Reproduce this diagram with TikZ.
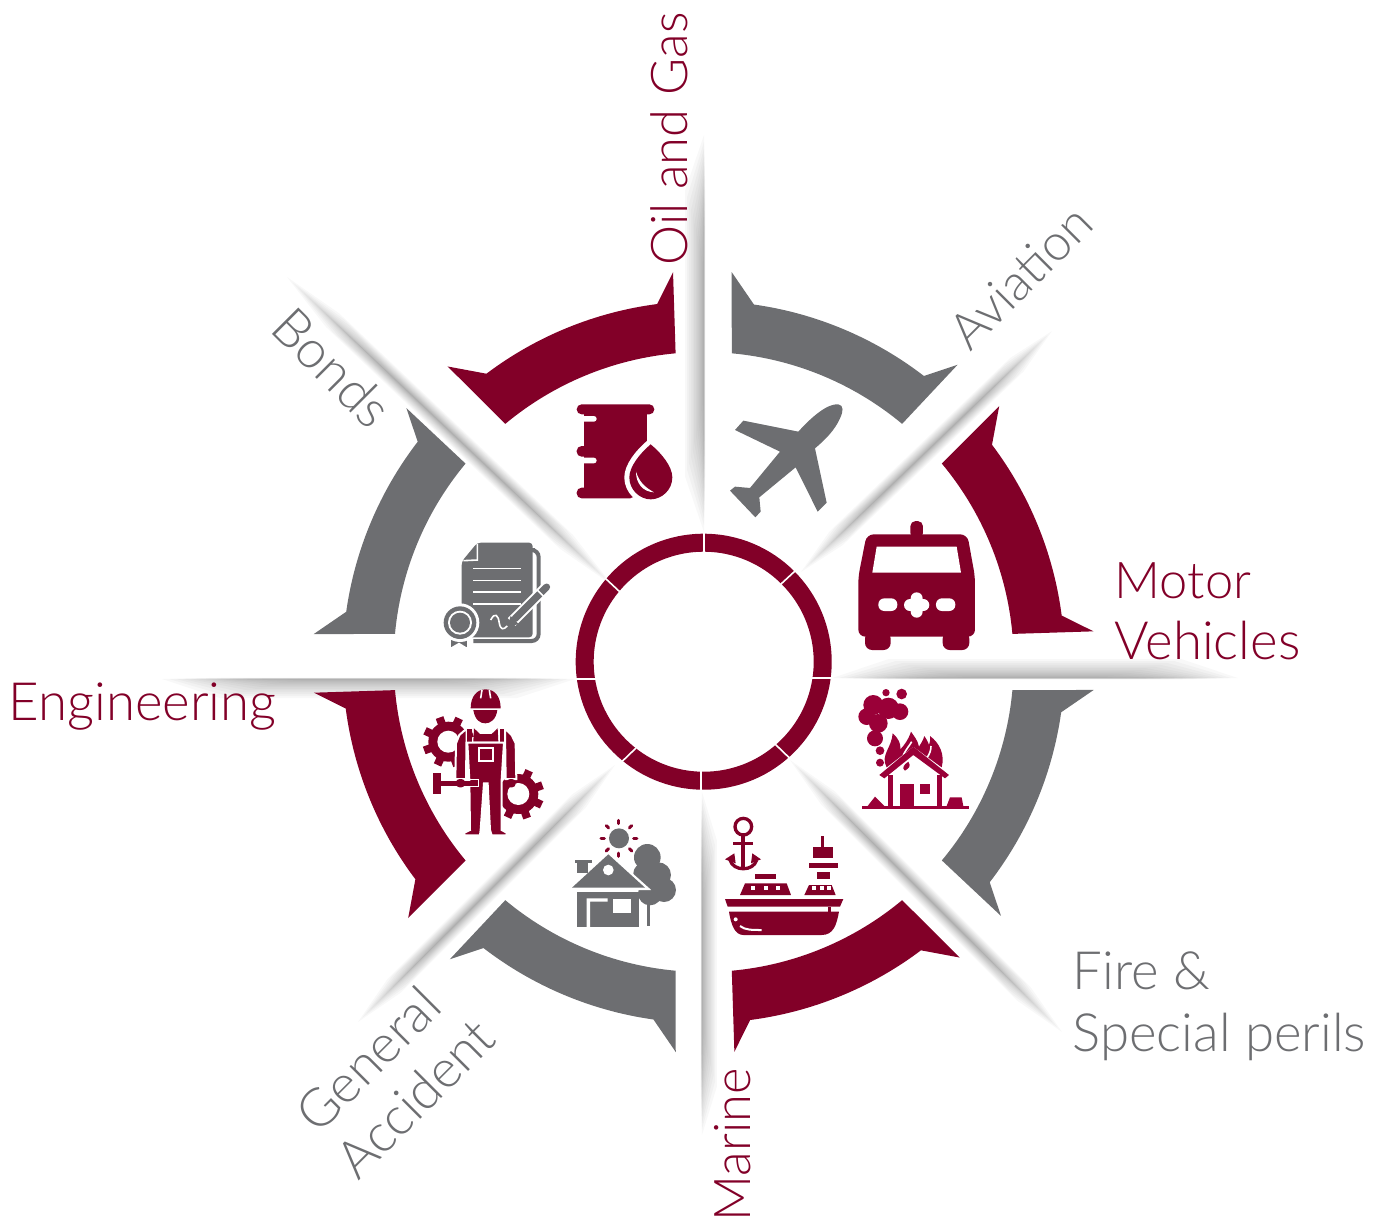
\documentclass[tikz,border=0pt]{standalone}
\usepackage{fontspec}
\setmainfont{Lato}[UprightFont=* Light]
\usetikzlibrary{calc}
\definecolor{marc}{HTML}{820028}
\definecolor{firc}{HTML}{9A0038}
\definecolor{gryc}{HTML}{6D6E71}
\tikzset{
	lab/.style={font=\fontsize{15}{17}\selectfont, inner sep=0pt},
	labsmall/.style={font=\fontsize{14.4}{17}\selectfont, inner sep=0pt},
	tick/.style={white, line width=0.016cm}
}
% #3 and #4: how far the shadow spreads on the left and on the right of the way out
\def\shaderay(#1)(#2)(#3,#4){\foreach \k in {1,...,14}{
	\pgfmathsetmacro\t{0.24*(1-\k/14)}
	\pgfmathsetmacro\w{3*(\k/14)^1.5}
	\pgfmathsetmacro\ta{\t+0.14}
	\pgfmathsetmacro\tb{1-\t-0.14}
	\pgfmathsetmacro\tc{1-\t}
	\pgfmathsetmacro\wl{\w*#3}
	\pgfmathsetmacro\wr{-\w*#4}
	\fill[black,opacity=0.026] ($(#1)!\t!(#2)$) -- ($(#1)!\ta!(#2)!\wl pt!90:(#2)$) -- ($(#1)!\tb!(#2)!\wl pt!90:(#2)$) -- ($(#1)!\tc!(#2)$) -- ($(#1)!\tb!(#2)!\wr pt!90:(#2)$) -- ($(#1)!\ta!(#2)!\wr pt!90:(#2)$) -- cycle;}}
\def\cogwheel(#1,#2){\begin{scope}[shift={(#1,#2)}]
	\fill[marc] (0,0) circle (60);
	\foreach \t in {0,45,...,315}{\fill[marc,rotate=\t+20] (-12,50) rectangle (12,77);}
	\fill[white] (0,0) circle (33);
\end{scope}}

\begin{document}
\begin{tikzpicture}[x=0.01cm,y=-0.01cm]
	\useasboundingbox (0,0) rectangle (1390,1223);
	
	%%%%% RAYS %%%%%
	\shaderay(704,532)(704,135)(1.8,0.12)
	\shaderay(801,572)(1052,331)(0.9,0.9)
	\shaderay(832,678)(1238,678)(1.8,0.12)
	\shaderay(790,760)(1062,1032)(0.9,0.9)
	\shaderay(702,792)(702,1135)(1.4,0.12)
	\shaderay(615,765)(358,1022)(0.9,0.9)
	\shaderay(575,679)(162,679)(1.8,0.12)
	\shaderay(612,585)(287,277)(0.9,0.9)
	
	%%%%% ARROWS %%%%%
	\foreach \a/\clr in {0/gryc,45/marc,90/gryc,135/marc,180/gryc,225/marc,270/gryc,315/marc}{
		\begin{scope}[shift={(703.7,662)},y=0.01cm,rotate=-\a]
			\fill[\clr] (85.9:391) -- (82:361) arc[start angle=82,end angle=52.4,radius=361]
				-- (49.5:391) -- (50.2:310) arc[start angle=50.2,end angle=84.8,radius=310] -- cycle;
		\end{scope}
	}
	
	%%%%% RING %%%%%
	\draw[marc,line width=0.18cm] (703.7,661.7) circle (119);
	\draw[tick] (703.7,532) -- (703.7,553);
	\draw[tick] (795,571) -- (781,584);
	\draw[tick] (833,677.7) -- (812,677.7);
	\draw[tick] (789.5,758) -- (775,744);
	\draw[tick] (701,771) -- (701,792);
	\draw[tick] (622,761.5) -- (636,748);
	\draw[tick] (575,679) -- (596,679);
	\draw[tick] (605,578) -- (620,592);
	
	%%%%% PLANE %%%%%
	\begin{scope}[shift={(700,260)},scale=0.3333]
		\fill[gryc] (295,515) .. controls (340,465) and (385,430) .. (415,433)
			.. controls (432,435) and (430,455) .. (420,475)
			.. controls (405,510) and (375,540) .. (345,565)
			-- (380,728) -- (353,755) -- (287,622) -- (178,712) -- (182,755) -- (166,772)
			-- (90,692) -- (105,680) -- (150,684) -- (240,575) -- (105,510) -- (130,482) -- cycle;
	\end{scope}
	
	%%%%% AMBULANCE %%%%%
	\begin{scope}[shift={(850,515)},scale=0.3333]
		\fill[marc,rounded corners=2pt] (50,58) -- (352,58) -- (375,185) -- (375,365) -- (25,365) -- (25,185) -- cycle;
		\fill[marc,rounded corners=2pt] (45,350) rectangle (122,405);
		\fill[marc,rounded corners=2pt] (278,350) rectangle (358,405);
		\fill[marc,rounded corners=1.5pt] (181,70) -- (181,18) -- (219,18) -- (219,70) -- cycle;
		\fill[white] (80,95) -- (320,95) -- (333,173) -- (67,173) -- cycle;
		\fill[white,rounded corners=1.7pt] (85,250) rectangle (142,288);
		\fill[white,rounded corners=1.7pt] (258,250) rectangle (316,288);
		\foreach \cx/\cy in {200/250,200/290,180/270,220/270}{\fill[white] (\cx,\cy) circle (18);}
		\fill[white] (190,260) rectangle (210,280);
	\end{scope}
	
	%%%%% BARREL %%%%%
	\begin{scope}[shift={(560,390)},scale=0.3333]
		\fill[marc,rounded corners=1.4pt] (50,43) rectangle (283,73);
		\fill[marc] (73,60) rectangle (260,310);
		\fill[marc,rounded corners=1.4pt] (50,168) rectangle (90,200);
		\fill[marc,rounded corners=1.4pt] (50,293) rectangle (225,325);
		\fill[white,rounded corners=0.8pt] (60,78) rectangle (110,95);
		\fill[white,rounded corners=0.8pt] (60,203) rectangle (110,220);
		\draw[white,line width=0.1cm] (272,163) .. controls (240,190) and (208,230) .. (208,262)
			.. controls (208,300) and (240,328) .. (272,328) .. controls (305,328) and (337,300) .. (337,262)
			.. controls (337,230) and (305,190) .. (272,163) -- cycle;
		\fill[marc] (272,163) .. controls (240,190) and (208,230) .. (208,262)
			.. controls (208,300) and (240,328) .. (272,328) .. controls (305,328) and (337,300) .. (337,262)
			.. controls (337,230) and (305,190) .. (272,163) -- cycle;
		\fill[white] (228,245) .. controls (228,280) and (248,305) .. (282,307) .. controls (252,290) and (238,275) .. (228,245) -- cycle;
	\end{scope}
	
	%%%%% CERTIFICATE %%%%%
	\begin{scope}[shift={(420,530)},scale=0.3333]
		\draw[gryc,line width=0.04cm,rounded corners=2pt] (345,60) -- (356,60) -- (356,333) -- (160,333);
		\fill[gryc,rounded corners=1pt] (172,38) -- (338,38) -- (338,322) -- (125,322) -- (125,95) -- cycle;
		\draw[tick] (172,42) -- (172,90) -- (130,92);
		\foreach \ly in {115,152,186,222}{\draw[tick] (160,\ly) -- (302,\ly);}
		\draw[white,line width=0.11cm] (383,168) -- (275,276);
		\draw[gryc,line width=0.07cm,line cap=round] (380,171) -- (285,266);
		\fill[gryc] (262,292) -- (272,258) -- (296,282) -- cycle;
		\draw[tick] (352,180) -- (372,200);
		\draw[tick] (212,270) .. controls (225,245) and (235,255) .. (238,280) .. controls (242,300) and (250,300) .. (262,288);
		\fill[gryc] (93,300) rectangle (140,352);
		\fill[white] (93,352) -- (117,338) -- (140,352) -- cycle;
		\fill[white] (120,278) circle (58);
		\fill[gryc] (120,278) circle (49);
		\fill[white] (120,278) circle (36);
		\fill[gryc] (120,278) circle (30);
	\end{scope}
	
	%%%%% WORKER %%%%%
	\begin{scope}[shift={(410,680)},scale=0.3333]
		\cogwheel(115,185)
		\cogwheel(325,342)
		\fill[marc] (70,278) rectangle (92,342);
		\fill[marc] (92,303) rectangle (205,317);
		\filldraw[marc,draw=white,line width=0.02cm] (165,150) -- (148,165) -- (138,190) -- (136,297) -- (168,297) -- (170,150) -- cycle;
		\filldraw[marc,draw=white,line width=0.02cm] (290,150) -- (305,165) -- (317,190) -- (319,297) -- (287,297) -- (285,150) -- cycle;
		\fill[marc,rounded corners=1pt] (138,297) rectangle (165,322);
		\fill[marc,rounded corners=1pt] (290,297) rectangle (317,322);
		\fill[marc] (172,148) rectangle (186,188);
		\fill[marc] (270,148) rectangle (283,188);
		\fill[marc] (192,145) -- (210,162) -- (245,162) -- (263,145) -- (265,185) -- (190,185) -- cycle;
		\filldraw[marc,draw=white,line width=0.02cm] (172,188) -- (282,188) -- (275,300) -- (275,450) -- (290,458) -- (290,466) -- (245,466) -- (240,450) -- (233,310) -- (222,310) -- (212,450) -- (210,466) -- (163,466) -- (163,458) -- (180,450) -- (178,300) -- cycle;
		\draw[white,line width=0.02cm] (208,205) rectangle (250,242);
		\fill[marc] (165,303) rectangle (205,317);
		\draw[tick] (165,298) -- (205,298) -- (205,320) -- (165,320);
		\fill[marc] (182,85) .. controls (182,50) and (200,28) .. (227,28) .. controls (255,28) and (272,50) .. (272,85) -- cycle;
		\fill[marc] (190,90) -- (262,90) .. controls (258,120) and (240,130) .. (226,130) .. controls (210,130) and (195,120) .. (190,90) -- cycle;
		\draw[tick] (216,30) -- (212,55);
		\draw[tick] (238,30) -- (242,55);
	\end{scope}
	
	%%%%% HOUSE WITH TREE %%%%%
	\begin{scope}[shift={(560,810)},scale=0.3333]
		\foreach \tx/\ty/\tr in {262/142/40,295/195/38,312/240/36,270/250/36,250/190/30}{\fill[gryc] (\tx,\ty) circle (\tr);}
		\fill[gryc] (262,270) rectangle (271,347);
		\draw[white,line width=0.04cm] (145,133) -- (258,234) -- (36,234) -- cycle;
		\fill[gryc] (36,233) -- (145,133) -- (255,233) -- cycle;
		\fill[gryc] (45,150) rectangle (95,160);
		\fill[gryc] (52,160) rectangle (85,190);
		\fill[white] (145,180) circle (16);
		\fill[gryc] (52,245) rectangle (238,352);
		\fill[white] (80,352) -- (80,265) -- (143,265) -- (143,275) -- (90,275) -- (90,352) -- cycle;
		\fill[white] (158,268) rectangle (212,310);
		\fill[gryc] (177,85) circle (30);
		\foreach \t in {0,45,...,315}{\draw[marc,line width=0.03cm,line cap=round,shift={(177,85)},rotate=\t] (44,0) -- (54,0);}
	\end{scope}
	
	%%%%% ANCHOR AND SHIP %%%%%
	\begin{scope}[shift={(715,810)},scale=0.3333]
		\draw[marc,line width=0.033cm] (85,50) circle (25);
		\fill[marc] (79,70) rectangle (91,175);
		\fill[marc] (55,95) rectangle (115,106);
		\draw[marc,line width=0.033cm] (45,150) .. controls (55,185) and (115,185) .. (125,150);
		\fill[marc] (30,148) -- (58,130) -- (62,160) -- cycle;
		\fill[marc] (138,148) -- (112,130) -- (108,160) -- cycle;
		\fill[marc] (30,267) -- (385,267) -- (375,290) -- (38,290) -- cycle;
		\fill[marc] (42,305) -- (372,305) .. controls (365,345) and (355,375) .. (320,375) -- (85,375) .. controls (60,375) and (48,345) .. (42,305) -- cycle;
		\draw[tick,line width=0.02cm] (75,348) .. controls (90,360) and (110,360) .. (140,360);
		\fill[white] (62,328) circle (6);
		\fill[marc] (338,290) rectangle (348,305);
		\fill[marc] (90,220) -- (215,220) -- (228,255) -- (75,255) -- cycle;
		\fill[marc] (282,225) -- (350,225) -- (362,255) -- (268,255) -- cycle;
		\foreach \wx in {115,152,190,298,320,343}{\fill[white] (\wx-6,229) rectangle (\wx+6,241);}
		\fill[marc] (120,192) rectangle (183,208);
		\fill[marc] (306,185) rectangle (345,207);
		\fill[marc] (282,160) rectangle (368,174);
		\fill[marc] (295,112) rectangle (355,145);
		\fill[marc] (318,78) rectangle (328,112);
	\end{scope}
	
	%%%%% BURNING HOUSE %%%%%
	\begin{scope}[shift={(845,680)},scale=0.3333]
		\fill[firc] (123,38) circle (11);
		\fill[firc] (170,42) circle (16);
		\foreach \sx/\sy/\sr in {85/75/30,130/85/32,165/95/25,65/110/25,100/130/28,90/175/24,105/212/13,105/248/12}{\fill[firc] (\sx,\sy) circle (\sr);}
		\fill[firc] (125,262) .. controls (105,225) and (140,205) .. (143,160) .. controls (160,175) and (168,190) .. (166,208)
			.. controls (178,195) and (190,180) .. (198,155) .. controls (208,170) and (218,180) .. (222,200)
			.. controls (228,190) and (235,180) .. (238,168) .. controls (245,178) and (250,188) .. (252,195)
			.. controls (256,185) and (256,178) .. (255,168) .. controls (285,190) and (300,225) .. (290,262) -- (205,200) -- cycle;
		\draw[tick] (175,225) .. controls (185,205) and (195,195) .. (200,185);
		\draw[tick] (245,235) .. controls (255,220) and (258,210) .. (258,198);
		\fill[white] (205,222) -- (272,272) -- (272,378) -- (145,378) -- (145,278) -- cycle;
		\fill[firc] (190,245) .. controls (175,255) and (170,265) .. (180,272) .. controls (190,265) and (200,260) .. (190,245) -- cycle;
		\fill[firc] (205,200) -- (312,285) -- (300,295) -- (205,225) -- (118,295) -- (103,285) -- cycle;
		\fill[firc] (128,285) rectangle (145,378);
		\fill[firc] (275,285) rectangle (290,378);
		\fill[firc] (165,312) rectangle (208,378);
		\fill[firc] (225,312) rectangle (255,342);
		\fill[firc] (50,378) rectangle (372,388);
		\fill[firc] (68,378) -- (90,350) -- (118,378) -- cycle;
		\fill[firc] (305,378) -- (315,352) -- (350,352) -- (355,378) -- cycle;
	\end{scope}
	
	%%%%% LABELS %%%%%
	\node[labsmall,text=marc,anchor=base west,rotate=90] (oilgas) at (687,266) {Oil and Gas};
	\node[labsmall,text=gryc,anchor=base west,rotate=45] (aviation) at (970,353) {Aviation};
	\node[labsmall,text=marc,anchor=base west] (motor) at (1114,598) {Motor};
	\node[lab,text=marc,anchor=base west] (vehicles) at (1114,659) {Vehicles};
	\node[lab,text=gryc,anchor=base west] (fire) at (1072,989) {Fire \&};
	\node[lab,text=gryc,anchor=base west] (perils) at (1072,1051) {Special perils};
	\node[labsmall,text=marc,anchor=base west,rotate=90] (marine) at (750,1222) {Marine};
	\node[lab,text=gryc,anchor=base west,rotate=45] (general) at (318,1136) {General};
	\node[lab,text=gryc,anchor=base west,rotate=45] (accident) at (358,1182) {Accident};
	\node[lab,text=marc,anchor=base west] (engineering) at (8,720) {Engineering};
	\node[lab,text=gryc,anchor=base west,rotate=-45] (bonds) at (268,330) {Bonds};
\end{tikzpicture}
\end{document}
